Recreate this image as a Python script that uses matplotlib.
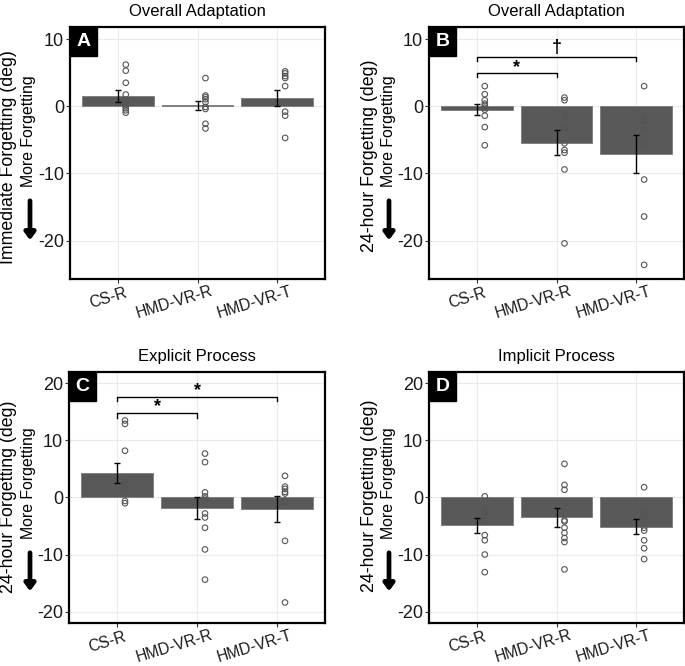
import numpy as np
import matplotlib
matplotlib.use("Agg")
import matplotlib.pyplot as plt
from matplotlib.patches import Rectangle, FancyArrowPatch
from matplotlib.transforms import ScaledTranslation

plt.rcParams['font.family'] = ['Liberation Sans', 'DejaVu Sans']
plt.rcParams['axes.unicode_minus'] = False

groups = ['CS-R', 'HMD-VR-R', 'HMD-VR-T']

# panel A: immediate forgetting, overall adaptation
a_mean = [1.5, 0.15, 1.25]
a_se = [0.87, 0.68, 1.2]
a_pts = [
    [6.2, 5.3, 3.5, 1.75, 0.6, 0.3, 0.0, -0.3, -0.6, -0.95],
    [4.2, 1.6, 1.35, 1.05, 0.6, -0.1, -0.4, -2.6, -3.3],
    [5.2, 4.9, 4.5, 4.2, 3.0, -0.8, -1.4, -4.7],
]

# panel B: 24-hour forgetting, overall adaptation
b_mean = [-0.5, -5.4, -7.1]
b_se = [0.8, 1.9, 2.9]
b_pts = [
    [3.0, 1.8, 0.9, 0.4, 0.1, -0.2, -0.5, -1.4, -3.1, -5.8],
    [1.3, 0.9, -1.2, -1.4, -3.2, -5.5, -6.5, -6.9, -9.4, -20.4],
    [3.0, -1.8, -2.0, -2.2, -3.6, -5.8, -10.9, -16.4, -23.6],
]

# panel C: 24-hour forgetting, explicit process
c_mean = [4.3, -1.9, -1.95]
c_se = [1.7, 1.95, 2.3]
c_pts = [
    [13.5, 12.9, 8.2, 2.6, 2.3, 2.0, 1.7, -0.6, -1.0],
    [7.7, 6.2, 0.9, 0.2, -0.2, -0.5, -2.8, -3.5, -5.3, -9.1, -14.4],
    [3.8, 1.9, 1.5, 1.0, 0.7, -0.6, -0.8, -7.6, -18.4],
]

# panel D: 24-hour forgetting, implicit process
d_mean = [-4.9, -3.5, -5.1]
d_se = [1.3, 1.6, 1.25]
d_pts = [
    [0.2, -1.9, -2.2, -2.6, -4.0, -6.6, -7.5, -10.0, -13.1],
    [5.9, 2.2, 1.35, -0.95, -4.0, -4.2, -5.3, -6.2, -7.1, -7.8, -12.6],
    [1.8, -2.8, -3.3, -3.8, -4.1, -5.3, -5.8, -7.5, -8.9, -10.8],
]

W, H = 685, 666
fig = plt.figure(figsize=(W / 100, H / 100), dpi=100)
renderer = fig.canvas.get_renderer()

XROT = 17
XFS = 11.3


def px_box(l, r, t, b):
    return [l / W, 1 - b / H, (r - l) / W, (b - t) / H]


def draw_panel(ax, means, ses, pts, title, letter, ylim, yticks):
    x = np.arange(1, len(groups) + 1)
    ax.set_axisbelow(True)
    ax.grid(True, color='#ebebeb', lw=0.8)
    ax.bar(x, means, width=0.9, color='#595959', edgecolor='#7a7a7a', lw=0.6, zorder=2)
    ax.errorbar(x, means, yerr=ses, fmt='none', ecolor='black', elinewidth=1.0,
                capsize=2.5, capthick=1.0, zorder=3)
    for i, vals in enumerate(pts):
        ax.scatter(np.full(len(vals), x[i] + 0.1), vals, s=16, facecolors='none',
                   edgecolors='#555555', linewidths=0.8, zorder=4)
    ax.set_xlim(0.4, 3.6)
    ax.set_ylim(*ylim)
    ax.set_yticks(yticks)
    ax.set_xticks(x)
    ax.set_xticklabels(groups, rotation=XROT, ha='right', rotation_mode='anchor')
    ax.tick_params(axis='y', labelsize=13, pad=1.5)
    ax.tick_params(axis='x', labelsize=XFS, pad=3.5)
    ax.tick_params(axis='both', colors='#333333', labelcolor='#1a1a1a',
                   length=2.75, width=0.8)
    # shift rotated labels so a point ~83% along the text sits under the tick
    ang = np.deg2rad(XROT)
    for lab in ax.get_xticklabels():
        tmp = fig.text(0, 0, lab.get_text(), fontsize=XFS)
        w = tmp.get_window_extent(renderer).width
        tmp.remove()
        d = 0.17 * w / 100.0
        lab.set_transform(lab.get_transform() +
                          ScaledTranslation(d * np.cos(ang), d * np.sin(ang),
                                            fig.dpi_scale_trans))
    for s in ax.spines.values():
        s.set_linewidth(1.6)
        s.set_color('black')
    ax.set_title(title, fontsize=12, pad=8)
    # panel letter box
    bw, bh = 27 / 255, 29 / 252
    ax.add_patch(Rectangle((0, 1 - bh), bw, bh, transform=ax.transAxes,
                           facecolor='black', edgecolor='black', zorder=6, clip_on=False))
    ax.text(bw / 2, 1 - bh / 2, letter, transform=ax.transAxes, color='white',
            fontsize=14, fontweight='bold', ha='center', va='center', zorder=7)


def bracket(ax, x1, x2, y, leg, label, dy):
    ax.plot([x1, x1, x2, x2], [y - leg, y, y, y - leg], color='black', lw=1.0, zorder=5)
    ax.text((x1 + x2) / 2, y + dy, label, ha='center', va='center', fontsize=13,
            fontweight='bold', zorder=5)


def ylabel(main, cx_main, cx_more, cy_main, cy_more, arrow_x, arrow_top, arrow_bot):
    fig.text(cx_main / W, 1 - cy_main / H, main, rotation=90, ha='center', va='center',
             fontsize=12.8)
    fig.text(cx_more / W, 1 - cy_more / H, 'More Forgetting', rotation=90, ha='center',
             va='center', fontsize=11.4)
    fig.add_artist(FancyArrowPatch(
        (arrow_x / W, 1 - arrow_top / H), (arrow_x / W, 1 - arrow_bot / H),
        transform=fig.transFigure, arrowstyle='-|>,head_width=0.22,head_length=0.3',
        mutation_scale=14, lw=3.4, color='black'))


axA = fig.add_axes(px_box(70, 325, 27, 279))
axB = fig.add_axes(px_box(429, 684, 27, 279))
axC = fig.add_axes(px_box(69, 325, 372, 623))
axD = fig.add_axes(px_box(429, 684, 372, 623))

draw_panel(axA, a_mean, a_se, a_pts, 'Overall Adaptation', 'A', (-25.7, 11.8), [-20, -10, 0, 10])
draw_panel(axB, b_mean, b_se, b_pts, 'Overall Adaptation', 'B', (-25.7, 11.8), [-20, -10, 0, 10])
draw_panel(axC, c_mean, c_se, c_pts, 'Explicit Process', 'C', (-22, 22), [-20, -10, 0, 10, 20])
draw_panel(axD, d_mean, d_se, d_pts, 'Implicit Process', 'D', (-22, 22), [-20, -10, 0, 10, 20])

bracket(axB, 1, 3, 7.3, 0.6, '\u2020', 1.5)
bracket(axB, 1, 2, 5.0, 0.7, '*', 0.8)
bracket(axC, 1, 3, 17.6, 0.7, '*', 1.1)
bracket(axC, 1, 2, 14.8, 0.8, '*', 1.1)

ylabel('Immediate Forgetting (deg)', 9, 28, 157, 131, 30, 198, 243)
ylabel('24-hour Forgetting (deg)', 369, 389, 156, 131, 389, 198, 243)
ylabel('24-hour Forgetting (deg)', 9, 28, 497, 483, 30, 550, 594)
ylabel('24-hour Forgetting (deg)', 369, 389, 496, 483, 389, 550, 594)

fig.savefig('out.png', dpi=100)
